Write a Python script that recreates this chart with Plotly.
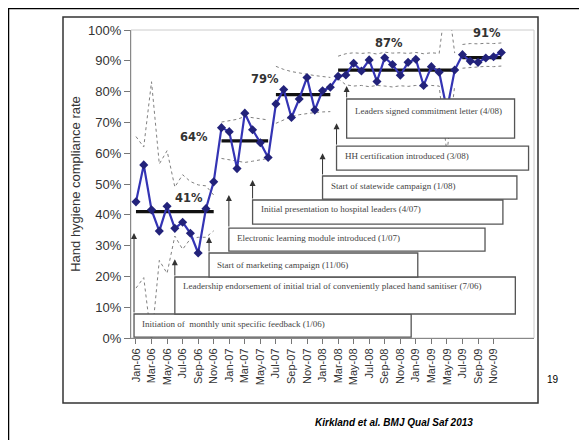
import plotly.graph_objects as go

# ---------------- data ----------------
month_labels = ["Jan-06","Mar-06","May-06","Jul-06","Sep-06","Nov-06",
                "Jan-07","Mar-07","May-07","Jul-07","Sep-07","Nov-07",
                "Jan-08","Mar-08","May-08","Jul-08","Sep-08","Nov-08",
                "Jan-09","Mar-09","May-09","Jul-09","Sep-09","Nov-09"]
y_tick_values = [0, 10, 20, 30, 40, 50, 60, 70, 80, 90, 100]
y_tick_labels = ["0%", "10%", "20%", "30%", "40%", "50%", "60%", "70%", "80%", "90%", "100%"]
months = list(range(48))  # Jan-06 .. Dec-09
compliance = [44.2, 56.2, 41.6, 34.7, 42.8, 35.6, 37.6, 34.0, 27.6, 42.0, 50.7,
              68.3, 67.0, 55.0, 73.0, 67.6, 63.4, 58.6,
              76.0, 80.7, 71.6, 77.6, 84.6, 74.0, 80.3, 81.4,
              85.0, 85.4, 89.2, 86.7, 90.3, 83.3, 91.0, 88.8, 85.3, 89.5, 90.5, 82.0,
              88.1, 86.3, 74.0, 87.0,
              92.0, 89.9, 89.5, 90.9, 91.3, 92.7]
upper_limit = [65.4, 62.0, 83.2, 56.5, 60.8, 49.0, 53.0, 50.8, 49.7, 49.4, 46.4,
               70.1, 70.5, 71.0, 71.9, 71.5, 71.0, 70.8,
               88.2, 87.2, 86.5, 86.0, 85.5, 85.2, 84.9, 84.6,
               91.5, 92.3, 92.6, 92.4, 92.6, 92.2, 92.8, 92.5, 92.6, 92.4, 92.7, 92.3,
               92.6, 92.4, 112.0, 92.5,
               95.3, 95.6, 95.5, 95.7, 95.6, 95.8]
lower_limit = [16.2, 19.6, -1.0, 25.2, 21.0, 33.1, 28.8, 32.2, 32.7, 32.7, 34.8,
               58.3, 57.9, 57.4, 57.0, 57.4, 57.9, 58.3,
               69.7, 70.8, 71.9, 72.5, 72.9, 73.2, 73.4, 73.5,
               84.2, 82.2, 81.8, 82.0, 81.6, 82.0, 81.8, 81.5, 81.9, 81.7, 82.0, 81.6,
               82.0, 81.8, 60.0, 82.0,
               87.6, 87.9, 88.0, 88.2, 88.1, 88.3]
phase_start = [0, 11, 18, 26, 42]
phase_end = [10, 17, 25, 41, 47]
phase_mean = [41, 64, 79, 87, 91]
phase_labels = ["41%", "64%", "79%", "87%", "91%"]

event_labels = ["Initiation of  monthly unit specific feedback (1/06)",
                "Leadership endorsement of initial trial of conveniently placed hand sanitiser (7/06)",
                "Start of marketing campaign (11/06)",
                "Electronic learning module introduced (1/07)",
                "Initial presentation to hospital leaders (4/07)",
                "Start of statewide campaign (1/08)",
                "HH certification introduced (3/08)",
                "Leaders signed commitment letter (4/08)"]

# ---------------- layout helpers (positions) ----------------
# per event: arrow x (month), arrow tip (%), box right (month), box bottom (%), box top (%), text y (%)
event_pos = [(-0.25, 34.1, 35.4, 0.3, 7.8, 4.5),
             (5.0, 25.6, 48.8, 7.8, 19.8, 16.9),
             (9.4, 32.8, 36.25, 19.8, 27.6, 23.8),
             (11.95, 46.4, 44.9, 28.2, 35.7, 32.4),
             (15.0, 51.3, 47.2, 37.0, 44.8, 41.8),
             (24.0, 60.0, 49.0, 45.1, 52.6, 49.3),
             (25.8, 69.7, 50.5, 54.5, 62.3, 59.0),
             (27.1, 81.8, 48.7, 64.9, 77.6, 73.6)]
label_pos = [(6.8, 45.4), (7.5, 65.2), (16.6, 84.1), (32.5, 95.7), (45.2, 98.9)]

fig = go.Figure()

# control limits (dotted)
for s, e in zip(phase_start, phase_end):
    xs = months[s:e + 1]
    for lim in (upper_limit, lower_limit):
        fig.add_trace(go.Scatter(x=xs, y=lim[s:e + 1], mode="lines",
                                 line=dict(color="#808080", width=1, dash="dot"),
                                 hoverinfo="skip", showlegend=False))

# phase means (thick black)
for s, e, m in zip(phase_start, phase_end, phase_mean):
    fig.add_trace(go.Scatter(x=[months[s], months[e]], y=[m, m], mode="lines",
                             line=dict(color="#111111", width=3.2),
                             hoverinfo="skip", showlegend=False))

# compliance series
fig.add_trace(go.Scatter(x=months, y=compliance, mode="lines+markers",
                         line=dict(color="#3434b4", width=2.2),
                         marker=dict(symbol="diamond", size=7, color="#22227a",
                                     line=dict(width=0)),
                         showlegend=False))

shapes = []
annotations = []

# plot area frame (light gray)
shapes.append(dict(type="rect", xref="paper", yref="paper", x0=0, x1=1, y0=0, y1=1,
                   line=dict(color="#cccccc", width=1), layer="below"))

# event boxes + arrows
for lab, (ax_, tip, xr, yb, yt, ty) in zip(event_labels, event_pos):
    shapes.append(dict(type="rect", xref="x", yref="y", x0=ax_, x1=xr, y0=yb, y1=yt,
                       fillcolor="white", line=dict(color="#555555", width=1.3),
                       layer="above"))
    annotations.append(dict(x=ax_ + 0.8, y=ty, xref="x", yref="y", text=lab,
                            showarrow=False, xanchor="left", yanchor="middle",
                            font=dict(family="Liberation Serif", size=9, color="#444444")))
    annotations.append(dict(x=ax_, y=tip, xref="x", yref="y", ax=ax_, ay=yt,
                            axref="x", ayref="y", text="", showarrow=True,
                            arrowhead=2, arrowsize=1.2, arrowwidth=1,
                            arrowcolor="#333333", standoff=0, startstandoff=0))

# phase labels
for txt, (lx, ly) in zip(phase_labels, label_pos):
    annotations.append(dict(x=lx, y=ly, xref="x", yref="y", text="<b>" + txt + "</b>",
                            showarrow=False,
                            font=dict(family="DejaVu Sans", size=11.5, color="#333333"),
                            xanchor="center", yanchor="middle"))

# page geometry (the page body adds an 8px offset)
OFF = 8
W, H = 587 - OFF, 440 - OFF
L, R, T, B = 131 - OFF, 53, 30 - OFF, 102
pw, ph = W - L - R, H - T - B
def px(x):  # page pixel -> paper x
    return (x - OFF - L) / pw
def py(y):  # page pixel -> paper y
    return (H - B - (y - OFF)) / ph

shapes.append(dict(type="rect", xref="paper", yref="paper",
                   x0=px(63), x1=px(538), y0=py(403), y1=py(17),
                   line=dict(color="#333333", width=1.5)))
shapes.append(dict(type="line", xref="paper", yref="paper",
                   x0=px(8), x1=px(600), y0=py(8), y1=py(8),
                   line=dict(color="#000000", width=2.5)))
shapes.append(dict(type="line", xref="paper", yref="paper",
                   x0=px(8), x1=px(8), y0=py(8), y1=py(450),
                   line=dict(color="#000000", width=2.5)))

annotations.append(dict(x=px(394), y=py(422), xref="paper", yref="paper",
                        text="<b><i>Kirkland et al. BMJ Qual Saf 2013</i></b>",
                        showarrow=False, xanchor="center", yanchor="middle",
                        font=dict(family="Liberation Sans", size=10, color="#000000")))
annotations.append(dict(x=px(553), y=py(380), xref="paper", yref="paper", text="19",
                        showarrow=False, xanchor="center", yanchor="middle",
                        font=dict(family="Liberation Sans", size=10, color="#000000")))

fig.update_layout(
    width=W, height=H, autosize=False,
    margin=dict(l=L, r=R, t=T, b=B, pad=0),
    paper_bgcolor="white", plot_bgcolor="white",
    shapes=shapes, annotations=annotations,
    xaxis=dict(range=[-0.64, 51.2], tickmode="array",
               tickvals=months[::2], ticktext=month_labels, tickangle=-90,
               ticks="outside", ticklen=5, tickcolor="#777777",
               showline=True, linecolor="#888888", linewidth=1.2,
               showgrid=False, zeroline=False,
               tickfont=dict(family="Liberation Sans", size=11, color="#333333")),
    yaxis=dict(range=[0, 100], tickmode="array", tickvals=y_tick_values,
               ticktext=y_tick_labels, ticks="outside", ticklen=6, tickcolor="#777777",
               showline=True, linecolor="#888888", linewidth=1.2,
               showgrid=False, zeroline=False,
               tickfont=dict(family="Liberation Sans", size=13, color="#333333"),
               title=dict(text="Hand hygiene compliance rate", standoff=4,
                          font=dict(family="Liberation Sans", size=13, color="#333333"))),
)

fig.write_html("out.html")
